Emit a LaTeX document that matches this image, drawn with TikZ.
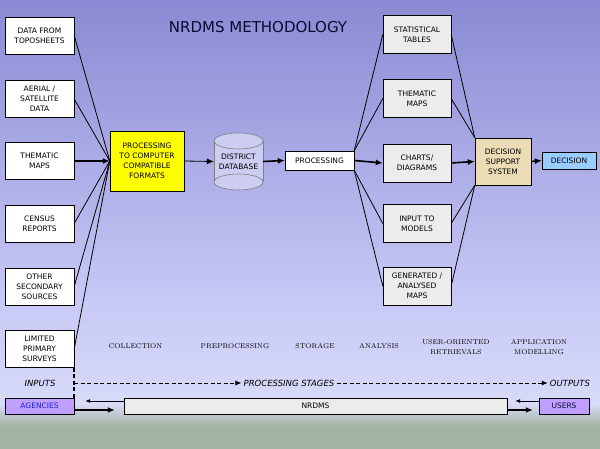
\documentclass[tikz,border=0pt]{standalone}
\usepackage{fontspec}
\setsansfont{DejaVu Sans}
\usetikzlibrary{arrows.meta}
\definecolor{bgtop}{RGB}{138,138,212}
\definecolor{bgmid}{RGB}{200,200,246}
\definecolor{bglight}{RGB}{216,218,248}
\definecolor{bggreen}{RGB}{162,180,162}
\definecolor{titleblue}{RGB}{10,10,50}
\definecolor{outgray}{RGB}{236,236,236}
\definecolor{procyellow}{RGB}{255,255,0}
\definecolor{dsstan}{RGB}{236,220,182}
\definecolor{decblue}{RGB}{153,204,255}
\definecolor{agpurple}{RGB}{192,160,255}
\definecolor{agtext}{RGB}{30,30,210}
\definecolor{dbfill}{RGB}{205,205,242}
\newcommand\boxfont{\sffamily\fontsize{7.5}{10}\selectfont}
\newcommand\tagfont{\sffamily\itshape\fontsize{8.5}{10}\selectfont}
\newcommand\stagefont{\rmfamily\fontsize{7}{10}\selectfont}
\begin{document}
\begin{tikzpicture}[x=1pt,y=-1pt,
    srcbox/.style={draw, fill=white, minimum width=69pt, minimum height=37pt, inner sep=1pt, align=center, font=\boxfont},
    outbox/.style={srcbox, fill=outgray, minimum width=68pt, minimum height=38pt},
    fan/.style={line width=0.8pt},
    flow/.style={line width=1.6pt, -{Latex[length=7pt,width=6pt]}},
    thinflow/.style={line width=0.8pt, -{Latex[length=7pt,width=6pt]}},
    backflow/.style={line width=0.8pt, -{Latex[length=5pt,width=4pt]}},
    dashflow/.style={line width=0.9pt, dash pattern=on 4pt off 2.5pt, -{Latex[length=6pt,width=5pt]}},
    stage/.style={font=\stagefont, align=center, inner sep=1pt},
    tag/.style={font=\tagfont, inner sep=2pt},
    barbox/.style={draw, minimum height=16pt, inner sep=1pt, font=\boxfont}]

    % background
    \useasboundingbox (0,0) rectangle (600,449);
    \shade[top color=bgtop, bottom color=bgmid] (0,0) rectangle (600,300);
    \shade[top color=bgmid, bottom color=bglight] (0,300) rectangle (600,404);
    \shade[top color=bglight, bottom color=bggreen] (0,404) rectangle (600,426);
    \fill[bggreen] (0,426) rectangle (600,449);

    \node[font=\sffamily\fontsize{15}{18}\selectfont, text=titleblue] (title) at (258,27.5) {NRDMS METHODOLOGY};

    % inputs
    \node[srcbox] (topo) at (39.5,35.5) {DATA FROM\\TOPOSHEETS};
    \node[srcbox] (aerial) at (39.5,99) {AERIAL /\\SATELLITE\\DATA};
    \node[srcbox] (thematic) at (39.5,161) {THEMATIC\\MAPS};
    \node[srcbox] (census) at (39.5,223.5) {CENSUS\\REPORTS};
    \node[srcbox] (secondary) at (39.5,286.5) {OTHER\\SECONDARY\\SOURCES};
    \node[srcbox] (surveys) at (39.5,349) {LIMITED\\PRIMARY\\SURVEYS};

    \node[srcbox, fill=procyellow, minimum width=74pt, minimum height=60pt] (convert) at (147,161) {PROCESSING\\TO COMPUTER\\COMPATIBLE\\FORMATS};

    % district database
    \fill[dbfill] (214,141) rectangle (263,182);
    \fill[dbfill] (238.5,182) ellipse [x radius=24.5pt, y radius=8pt];
    \fill[dbfill] (238.5,141) ellipse [x radius=24.5pt, y radius=8pt];
    \draw[gray, line width=0.6pt] (238.5,141) ellipse [x radius=24.5pt, y radius=8pt];
    \draw[gray, line width=0.6pt] (238.5,182) ellipse [x radius=24.5pt, y radius=8pt];
    \draw[gray, line width=0.6pt] (214,141) -- (214,182) (263,141) -- (263,182);
    \node[font=\boxfont, align=center, minimum width=49pt, minimum height=57pt, inner sep=0pt] (db) at (238.5,161.5) {DISTRICT\\DATABASE};

    \node[srcbox, minimum width=69pt, minimum height=19pt] (process) at (319.5,160.5) {PROCESSING};

    % outputs
    \node[outbox] (stats) at (417,34.5) {STATISTICAL\\TABLES};
    \node[outbox] (themout) at (417,98.5) {THEMATIC\\MAPS};
    \node[outbox] (charts) at (417,163) {CHARTS/\\DIAGRAMS};
    \node[outbox] (models) at (417,223.5) {INPUT TO\\MODELS};
    \node[outbox] (generated) at (417,286) {GENERATED /\\ANALYSED\\MAPS};

    \node[srcbox, fill=dsstan, minimum width=56pt, minimum height=47pt] (dss) at (503,161.5) {DECISION\\SUPPORT\\SYSTEM};
    \node[srcbox, fill=decblue, minimum width=54pt, minimum height=17pt] (decision) at (569,160.5) {DECISION};

    % fan in / fan out
    \foreach \src in {topo,aerial,census,secondary,surveys}
        \draw[fan] (\src.east) -- (convert.west);
    \draw[flow] (thematic.east) -- (convert.west);
    \draw[thinflow] (convert.east) -- (db.west);
    \draw[flow] (db.east) -- (process.west);
    \foreach \dst in {stats,themout}
        \draw[fan] (process.north east) -- (\dst.west);
    \foreach \dst in {models,generated}
        \draw[fan] (process.south east) -- (\dst.west);
    \draw[flow] (process.east) -- (charts.west);
    \foreach \src in {stats,themout}
        \draw[fan] (\src.east) -- (dss.north west);
    \foreach \src in {models,generated}
        \draw[fan] (\src.east) -- (dss.south west);
    \draw[flow] (charts.east) -- (dss.west);
    \draw[flow] (dss.east) -- (decision.west);

    % stages
    \node[stage] (collection) at (135.5,346) {COLLECTION};
    \node[stage] (preproc) at (235,346) {PREPROCESSING};
    \node[stage] (storage) at (315,346) {STORAGE};
    \node[stage] (analysis) at (379,346) {ANALYSIS};
    \node[stage] (retrieval) at (456,347) {USER-ORIENTED\\RETRIEVALS};
    \node[stage] (modelling) at (539,347) {APPLICATION\\MODELLING};

    \node[tag] (inputs) at (40,383) {INPUTS};
    \node[tag] (stages) at (289,383) {PROCESSING STAGES};
    \node[tag] (outputs) at (570,383) {OUTPUTS};

    % bottom bar
    \node[barbox, fill=agpurple, text=agtext, minimum width=69pt] (agencies) at (39.5,406) {AGENCIES};
    \node[barbox, fill=outgray, minimum width=383pt] (nrdms) at (315.5,406) {NRDMS};
    \node[barbox, fill=agpurple, text=titleblue, minimum width=50pt] (users) at (564,406) {USERS};

    \draw[line width=1.5pt, dash pattern=on 4pt off 2.5pt] (surveys.south east) -- (agencies.north east);
    \draw[dashflow] (surveys.south east |- stages.west) -- (stages.west);
    \draw[dashflow] (stages.east) -- (outputs.west);

    \draw[backflow, shorten >=11pt] ([yshift=5pt]nrdms.west) -- ([yshift=5pt]agencies.east);
    \draw[flow, shorten >=9pt] ([yshift=-4pt]agencies.east) -- ([yshift=-4pt]nrdms.west);
    \draw[backflow, shorten >=8pt] ([yshift=5pt]users.west) -- ([yshift=5pt]nrdms.east);
    \draw[flow, shorten >=6pt] ([yshift=-4pt]nrdms.east) -- ([yshift=-4pt]users.west);
\end{tikzpicture}
\end{document}
